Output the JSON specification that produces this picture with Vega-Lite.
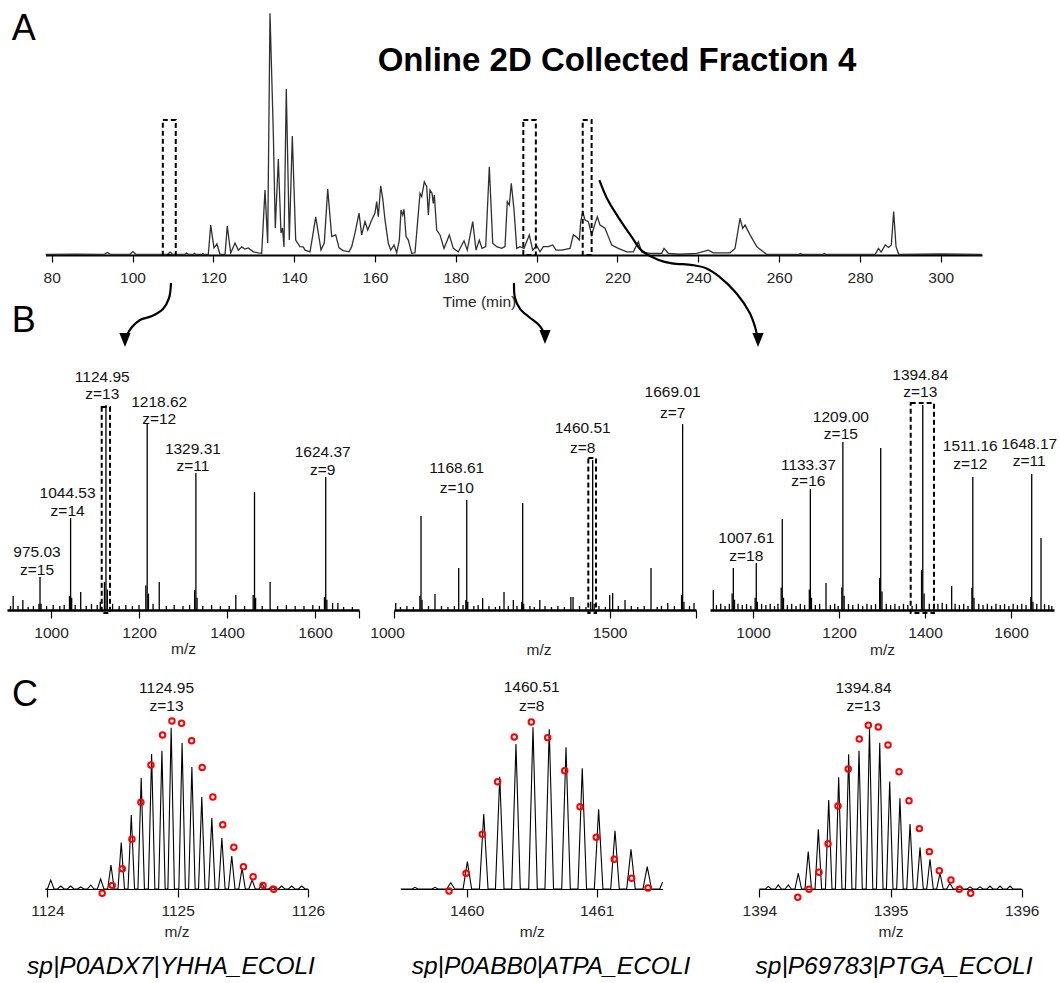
{
  "$schema": "https://vega.github.io/schema/vega-lite/v6.json",
  "background": "white",
  "padding": {"left": 7, "top": 10, "right": 0, "bottom": 0},
  "autosize": {"type": "pad"},
  "bounds": "flush",
  "spacing": 106,
  "config": {
    "view": {"stroke": null},
    "font": "Liberation Sans",
    "axis": {
      "grid": false,
      "domainColor": "#000000",
      "tickColor": "#000000",
      "labelColor": "#262626",
      "titleColor": "#262626",
      "labelFont": "Liberation Sans",
      "titleFont": "Liberation Sans",
      "labelFontSize": 15.5,
      "titleFontSize": 15.5,
      "titleFontWeight": "normal",
      "labelBaseline": "alphabetic",
      "titleBaseline": "alphabetic",
      "labelFlush": false,
      "labelOverlap": false
    }
  },
  "datasets": {
    "chrom": [
      {"t":78.5,"I":0.2},{"t":86,"I":0.3},{"t":92.9,"I":0.2},{"t":93.8,"I":1.0},{"t":94.6,"I":0.2},{"t":99.3,"I":0.2},{"t":100.1,"I":1.4},{"t":100.9,"I":0.2},
      {"t":108.6,"I":0.2},{"t":109.3,"I":1.2},{"t":110.0,"I":0.2},{"t":112.9,"I":0.2},{"t":113.4,"I":0.8},{"t":113.9,"I":0.2},{"t":115.0,"I":0.2},{"t":115.3,"I":0.7},{"t":115.7,"I":0.2},
      {"t":117.1,"I":0.2},{"t":117.4,"I":0.6},{"t":117.7,"I":0.2},{"t":118.75,"I":0.2},{"t":119.35,"I":12.2},{"t":120.16,"I":2.9},{"t":120.9,"I":4.5},{"t":121.65,"I":0.2},
      {"t":122.89,"I":0.2},{"t":123.45,"I":11.8},{"t":124.3,"I":0.8},{"t":125.36,"I":4.9},{"t":126.18,"I":2.0},{"t":127.02,"I":3.3},{"t":127.83,"I":2.4},{"t":128.65,"I":2.9},
      {"t":129.89,"I":1.3},{"t":131.13,"I":0.9},{"t":131.97,"I":0.7},{"t":132.78,"I":26.5},{"t":133.45,"I":4.9},{"t":134.02,"I":98.7},{"t":134.84,"I":49.8},{"t":135.33,"I":11.0},
      {"t":136.08,"I":39.2},{"t":136.74,"I":9.0},{"t":137.11,"I":11.0},{"t":137.48,"I":3.3},{"t":138.05,"I":67.8},{"t":138.8,"I":6.1},{"t":139.54,"I":48.6},{"t":140.38,"I":6.1},
      {"t":141.44,"I":3.4},{"t":142.26,"I":3.3},{"t":142.68,"I":2.0},{"t":143.92,"I":1.3},{"t":144.49,"I":6.9},{"t":145.33,"I":15.6},{"t":145.97,"I":9.0},{"t":146.64,"I":2.0},
      {"t":147.46,"I":5.0},{"t":148.3,"I":26.9},{"t":149.29,"I":7.5},{"t":150.28,"I":8.2},{"t":151.1,"I":2.9},{"t":152.16,"I":1.8},{"t":153.57,"I":1.3},{"t":154.24,"I":3.4},
      {"t":155.06,"I":9.0},{"t":156.05,"I":17.1},{"t":156.71,"I":8.2},{"t":157.53,"I":13.6},{"t":158.2,"I":10.2},{"t":159.19,"I":14.3},{"t":160.0,"I":17.1},{"t":160.42,"I":21.8},
      {"t":160.82,"I":15.6},{"t":161.41,"I":28.2},{"t":161.91,"I":23.1},{"t":162.48,"I":14.3},{"t":163.3,"I":4.8},{"t":163.89,"I":2.0},{"t":164.71,"I":4.1},{"t":165.37,"I":0.9},
      {"t":166.02,"I":6.1},{"t":166.44,"I":18.4},{"t":166.86,"I":16.3},{"t":167.18,"I":18.7},{"t":167.68,"I":7.5},{"t":168.25,"I":6.1},{"t":169.08,"I":0.7},{"t":169.9,"I":0.9},
      {"t":170.72,"I":17.0},{"t":171.14,"I":25.2},{"t":171.56,"I":23.8},{"t":172.2,"I":29.9},{"t":172.8,"I":27.9},{"t":173.2,"I":16.3},{"t":173.61,"I":26.5},{"t":174.11,"I":25.2},
      {"t":174.43,"I":21.1},{"t":174.68,"I":24.5},{"t":175.27,"I":10.2},{"t":176.09,"I":8.2},{"t":177.08,"I":2.7},{"t":178.39,"I":8.2},{"t":179.38,"I":2.7},{"t":180.62,"I":1.3},
      {"t":182.03,"I":5.8},{"t":182.84,"I":2.0},{"t":184.18,"I":13.6},{"t":185.0,"I":2.0},{"t":185.81,"I":6.1},{"t":186.48,"I":2.7},{"t":187.4,"I":3.4},{"t":188.29,"I":36.0},
      {"t":189.13,"I":4.8},{"t":190.12,"I":3.4},{"t":191.36,"I":2.7},{"t":192.17,"I":3.4},{"t":192.74,"I":21.8},{"t":193.24,"I":20.4},{"t":193.73,"I":29.3},{"t":194.4,"I":18.4},
      {"t":195.07,"I":2.7},{"t":195.89,"I":3.4},{"t":196.87,"I":2.7},{"t":198.19,"I":8.2},{"t":199.03,"I":2.0},{"t":200.02,"I":3.7},{"t":200.83,"I":1.3},{"t":201.65,"I":3.4},
      {"t":202.89,"I":3.4},{"t":203.98,"I":4.1},{"t":204.79,"I":2.0},{"t":206.2,"I":2.0},{"t":208.26,"I":2.7},{"t":209.08,"I":8.2},{"t":209.74,"I":7.5},{"t":210.56,"I":6.1},
      {"t":210.91,"I":13.6},{"t":211.4,"I":17.7},{"t":211.97,"I":14.3},{"t":212.79,"I":13.6},{"t":213.63,"I":8.2},{"t":214.45,"I":12.9},{"t":215.02,"I":15.6},{"t":215.68,"I":12.2},
      {"t":216.92,"I":10.9},{"t":217.74,"I":7.5},{"t":218.58,"I":4.1},{"t":220.21,"I":2.7},{"t":222.29,"I":1.3},{"t":223.93,"I":1.3},{"t":225.16,"I":5.4},{"t":226.0,"I":1.3},
      {"t":228.06,"I":0.7},{"t":230.95,"I":0.7},{"t":231.52,"I":2.7},{"t":232.59,"I":0.7},{"t":235.48,"I":0.3},{"t":239.61,"I":0.7},{"t":242.49,"I":2.0},{"t":243.72,"I":0.9},
      {"t":247.85,"I":0.9},{"t":249.09,"I":2.7},{"t":250.33,"I":15.0},{"t":250.99,"I":10.9},{"t":251.57,"I":12.2},{"t":252.8,"I":8.2},{"t":254.46,"I":3.4},{"t":256.96,"I":0.2},
      {"t":264.8,"I":0.2},{"t":265.3,"I":0.6},{"t":265.8,"I":0.2},{"t":270.7,"I":0.2},{"t":271.2,"I":0.6},{"t":271.7,"I":0.2},{"t":283.74,"I":0.2},{"t":284.58,"I":2.7},
      {"t":285.25,"I":1.2},{"t":286.26,"I":4.1},{"t":287.08,"I":3.1},{"t":287.77,"I":4.1},{"t":288.34,"I":17.7},{"t":288.93,"I":3.4},{"t":289.6,"I":0.2},{"t":295,"I":0.3},
      {"t":300,"I":0.4},{"t":305,"I":0.3},{"t":310.2,"I":0.2}
    ],
    "winA": [
      {"lo":107.5,"hi":110.7,"top":55.1},
      {"lo":196.7,"hi":199.8,"top":55.1},
      {"lo":211.4,"hi":213.6,"top":55.1}
    ],
    "arrows": [
      {"a":1,"s":0,"t":109.52,"I":-11.4},{"a":1,"s":1,"t":109.03,"I":-17.6},{"a":1,"s":2,"t":107.54,"I":-22.0},{"a":1,"s":3,"t":104.82,"I":-24.9},
      {"a":1,"s":4,"t":101.85,"I":-26.5},{"a":1,"s":5,"t":99.87,"I":-29.4},{"a":1,"s":6,"t":98.63,"I":-32.7},{"a":1,"s":7,"t":98.14,"I":-34.7},
      {"a":2,"s":0,"t":194.40,"I":-11.4},{"a":2,"s":1,"t":194.65,"I":-17.6},{"a":2,"s":2,"t":195.89,"I":-22.0},{"a":2,"s":3,"t":198.11,"I":-25.3},
      {"a":2,"s":4,"t":200.34,"I":-28.2},{"a":2,"s":5,"t":201.58,"I":-31.0},{"a":2,"s":6,"t":202.07,"I":-33.5},
      {"a":3,"s":0,"t":215.53,"I":30.6},{"a":3,"s":1,"t":217.61,"I":22.4},{"a":3,"s":2,"t":220.14,"I":15.6},{"a":3,"s":3,"t":223.48,"I":7.5},
      {"a":3,"s":4,"t":226.0,"I":1.8},{"a":3,"s":5,"t":230.18,"I":-2.0},{"a":3,"s":6,"t":233.5,"I":-3.4},{"a":3,"s":7,"t":238.55,"I":-4.1},
      {"a":3,"s":8,"t":241.91,"I":-5.4},{"a":3,"s":9,"t":245.25,"I":-8.9},{"a":3,"s":10,"t":249.43,"I":-15.6},{"a":3,"s":11,"t":252.77,"I":-23.8},
      {"a":3,"s":12,"t":254.04,"I":-29.4},{"a":3,"s":13,"t":254.78,"I":-34.7}
    ],
    "heads": [
      {"a":1,"t":98.14,"I":-34.7},{"a":2,"t":202.07,"I":-33.5},{"a":3,"t":254.78,"I":-34.7}
    ],
    "specB": [
      {"p":"B1","mz":908,"I":2},{"p":"B1","mz":914,"I":6.8},{"p":"B1","mz":925,"I":2},{"p":"B1","mz":936,"I":4.9},{"p":"B1","mz":948,"I":1.5},
      {"p":"B1","mz":960,"I":2},{"p":"B1","mz":972.5,"I":3},{"p":"B1","mz":975.03,"I":16.1,"z":15},{"p":"B1","mz":977.5,"I":3},{"p":"B1","mz":990,"I":2},
      {"p":"B1","mz":1005,"I":2.5},{"p":"B1","mz":1020,"I":2},{"p":"B1","mz":1030,"I":2.5},{"p":"B1","mz":1042,"I":6.8},{"p":"B1","mz":1044.53,"I":44.9,"z":14},
      {"p":"B1","mz":1047,"I":6},{"p":"B1","mz":1055,"I":2.5},{"p":"B1","mz":1067.5,"I":8.8},{"p":"B1","mz":1080,"I":2},{"p":"B1","mz":1092,"I":3},
      {"p":"B1","mz":1105,"I":2.5},{"p":"B1","mz":1112,"I":4},{"p":"B1","mz":1121.5,"I":13.7},{"p":"B1","mz":1124.95,"I":100,"z":13},{"p":"B1","mz":1128,"I":10},
      {"p":"B1","mz":1140,"I":3},{"p":"B1","mz":1155,"I":2},{"p":"B1","mz":1170,"I":2.5},{"p":"B1","mz":1185,"I":2},{"p":"B1","mz":1200,"I":2.5},
      {"p":"B1","mz":1215.5,"I":12},{"p":"B1","mz":1218.62,"I":91.2,"z":12},{"p":"B1","mz":1221.5,"I":8},{"p":"B1","mz":1232,"I":3},{"p":"B1","mz":1246,"I":13.7},
      {"p":"B1","mz":1262,"I":2},{"p":"B1","mz":1280,"I":2.5},{"p":"B1","mz":1300,"I":2},{"p":"B1","mz":1315,"I":2.5},{"p":"B1","mz":1326.5,"I":9.8},
      {"p":"B1","mz":1329.31,"I":66.8,"z":11},{"p":"B1","mz":1332,"I":6},{"p":"B1","mz":1345,"I":2},{"p":"B1","mz":1365,"I":2.5},{"p":"B1","mz":1385,"I":2},
      {"p":"B1","mz":1405,"I":2},{"p":"B1","mz":1420,"I":7.3},{"p":"B1","mz":1440,"I":2},{"p":"B1","mz":1459.5,"I":7.3},{"p":"B1","mz":1462.5,"I":57.6},
      {"p":"B1","mz":1465,"I":6},{"p":"B1","mz":1480,"I":2},{"p":"B1","mz":1498,"I":13.7},{"p":"B1","mz":1515,"I":2},{"p":"B1","mz":1535,"I":2.5},
      {"p":"B1","mz":1555,"I":2},{"p":"B1","mz":1575,"I":2},{"p":"B1","mz":1595,"I":2.5},{"p":"B1","mz":1610,"I":2},{"p":"B1","mz":1621.5,"I":6.3},
      {"p":"B1","mz":1624.37,"I":64.9,"z":9},{"p":"B1","mz":1627,"I":5},{"p":"B1","mz":1640,"I":3.4},{"p":"B1","mz":1652,"I":3.4},{"p":"B1","mz":1665,"I":1.5},
      {"p":"B1","mz":1685,"I":1.5},

      {"p":"B2","mz":1004,"I":3.4},{"p":"B2","mz":1015,"I":1.5},{"p":"B2","mz":1030,"I":2},{"p":"B2","mz":1045,"I":1.5},{"p":"B2","mz":1060,"I":6.8},
      {"p":"B2","mz":1062.6,"I":45.9},{"p":"B2","mz":1065,"I":5},{"p":"B2","mz":1080,"I":2},{"p":"B2","mz":1095,"I":7.8},{"p":"B2","mz":1110,"I":2},
      {"p":"B2","mz":1125,"I":1.5},{"p":"B2","mz":1140,"I":2},{"p":"B2","mz":1150,"I":20.5},{"p":"B2","mz":1160,"I":2.5},{"p":"B2","mz":1166.5,"I":4.9},
      {"p":"B2","mz":1168.61,"I":53.7,"z":10},{"p":"B2","mz":1171,"I":4},{"p":"B2","mz":1185,"I":2},{"p":"B2","mz":1195,"I":2.5},{"p":"B2","mz":1205.5,"I":5.9},
      {"p":"B2","mz":1220,"I":2},{"p":"B2","mz":1235,"I":1.5},{"p":"B2","mz":1245,"I":2},{"p":"B2","mz":1255,"I":8.8},{"p":"B2","mz":1265,"I":2},
      {"p":"B2","mz":1276.6,"I":4.9},{"p":"B2","mz":1285,"I":2},{"p":"B2","mz":1296,"I":4},{"p":"B2","mz":1298.3,"I":52.2},{"p":"B2","mz":1300.5,"I":3},
      {"p":"B2","mz":1315,"I":2},{"p":"B2","mz":1325,"I":1.5},{"p":"B2","mz":1338,"I":4.9},{"p":"B2","mz":1350,"I":2},{"p":"B2","mz":1365,"I":1.5},
      {"p":"B2","mz":1380,"I":2},{"p":"B2","mz":1395,"I":1.5},{"p":"B2","mz":1410,"I":6.3},{"p":"B2","mz":1415,"I":6.3},{"p":"B2","mz":1430,"I":2},
      {"p":"B2","mz":1445,"I":1.5},{"p":"B2","mz":1456,"I":4},{"p":"B2","mz":1460.51,"I":73.2,"z":8},{"p":"B2","mz":1464,"I":3},{"p":"B2","mz":1475,"I":2},
      {"p":"B2","mz":1490,"I":1.5},{"p":"B2","mz":1500,"I":7.3},{"p":"B2","mz":1506.8,"I":8.3},{"p":"B2","mz":1520,"I":2},{"p":"B2","mz":1535.5,"I":4.9},
      {"p":"B2","mz":1550,"I":2},{"p":"B2","mz":1565,"I":1.5},{"p":"B2","mz":1580,"I":2},{"p":"B2","mz":1595.7,"I":20.5},{"p":"B2","mz":1610,"I":1.5},
      {"p":"B2","mz":1620,"I":2},{"p":"B2","mz":1634.5,"I":3.4},{"p":"B2","mz":1650,"I":2},{"p":"B2","mz":1666.5,"I":7.3},{"p":"B2","mz":1669.01,"I":90.7,"z":7},
      {"p":"B2","mz":1672,"I":4},{"p":"B2","mz":1685,"I":2},{"p":"B2","mz":1695.4,"I":3.4},

      {"p":"B3","mz":907.7,"I":9.8},{"p":"B3","mz":915,"I":2.5},{"p":"B3","mz":925,"I":3},{"p":"B3","mz":935,"I":2},{"p":"B3","mz":945,"I":3},
      {"p":"B3","mz":951.5,"I":8},{"p":"B3","mz":954.2,"I":20.5},{"p":"B3","mz":957,"I":5},{"p":"B3","mz":965,"I":3},{"p":"B3","mz":975,"I":2.5},
      {"p":"B3","mz":985,"I":3},{"p":"B3","mz":995,"I":2},{"p":"B3","mz":1005,"I":6},{"p":"B3","mz":1007.61,"I":22.9,"z":18},{"p":"B3","mz":1010,"I":4},
      {"p":"B3","mz":1020,"I":3},{"p":"B3","mz":1030,"I":2.5},{"p":"B3","mz":1040,"I":3},{"p":"B3","mz":1050,"I":2},{"p":"B3","mz":1058,"I":3},
      {"p":"B3","mz":1065.5,"I":11},{"p":"B3","mz":1068.1,"I":44.4},{"p":"B3","mz":1071,"I":6},{"p":"B3","mz":1080,"I":2.5},{"p":"B3","mz":1090,"I":3},
      {"p":"B3","mz":1100,"I":2},{"p":"B3","mz":1110,"I":3},{"p":"B3","mz":1120,"I":2.5},{"p":"B3","mz":1131,"I":10},{"p":"B3","mz":1133.37,"I":59.0,"z":16},
      {"p":"B3","mz":1136,"I":6},{"p":"B3","mz":1145,"I":2.5},{"p":"B3","mz":1155,"I":3},{"p":"B3","mz":1169.8,"I":13.2},{"p":"B3","mz":1180,"I":2.5},
      {"p":"B3","mz":1190,"I":3},{"p":"B3","mz":1198,"I":2},{"p":"B3","mz":1206.5,"I":11},{"p":"B3","mz":1209.00,"I":82.0,"z":15},{"p":"B3","mz":1212,"I":7},
      {"p":"B3","mz":1222,"I":3},{"p":"B3","mz":1232,"I":2.5},{"p":"B3","mz":1245,"I":3},{"p":"B3","mz":1255,"I":2},{"p":"B3","mz":1265,"I":3},
      {"p":"B3","mz":1275,"I":2.5},{"p":"B3","mz":1285,"I":3},{"p":"B3","mz":1294.5,"I":15.6},{"p":"B3","mz":1297,"I":79.0},{"p":"B3","mz":1300,"I":9},
      {"p":"B3","mz":1310,"I":3},{"p":"B3","mz":1320,"I":2.5},{"p":"B3","mz":1330,"I":3},{"p":"B3","mz":1340,"I":2},{"p":"B3","mz":1350,"I":3},
      {"p":"B3","mz":1360,"I":2.5},{"p":"B3","mz":1370,"I":2},{"p":"B3","mz":1380,"I":3},{"p":"B3","mz":1392,"I":19.5},{"p":"B3","mz":1394.84,"I":100,"z":13},
      {"p":"B3","mz":1398,"I":8},{"p":"B3","mz":1410,"I":3},{"p":"B3","mz":1420,"I":2.5},{"p":"B3","mz":1430,"I":3},{"p":"B3","mz":1440,"I":3.5},
      {"p":"B3","mz":1450,"I":3},{"p":"B3","mz":1462,"I":11.7},{"p":"B3","mz":1470,"I":3},{"p":"B3","mz":1480,"I":2.5},{"p":"B3","mz":1490,"I":3},
      {"p":"B3","mz":1500,"I":2},{"p":"B3","mz":1509,"I":10.7},{"p":"B3","mz":1511.16,"I":64.9,"z":12},{"p":"B3","mz":1514,"I":6},{"p":"B3","mz":1525,"I":3},
      {"p":"B3","mz":1535,"I":2.5},{"p":"B3","mz":1545,"I":3},{"p":"B3","mz":1555,"I":2},{"p":"B3","mz":1565,"I":3},{"p":"B3","mz":1575,"I":2.5},
      {"p":"B3","mz":1585,"I":3},{"p":"B3","mz":1595,"I":2},{"p":"B3","mz":1605,"I":3},{"p":"B3","mz":1615,"I":2.5},{"p":"B3","mz":1625,"I":3},
      {"p":"B3","mz":1635,"I":2.5},{"p":"B3","mz":1646,"I":6.3},{"p":"B3","mz":1648.17,"I":66.3,"z":11},{"p":"B3","mz":1651,"I":4},{"p":"B3","mz":1660,"I":3},
      {"p":"B3","mz":1669.8,"I":35.1},{"p":"B3","mz":1678,"I":3},{"p":"B3","mz":1688,"I":2.5},{"p":"B3","mz":1695,"I":2}
    ],
    "winB": [
      {"p":"B1","lo":1115.2,"hi":1134.1,"top":99.0},
      {"p":"B2","lo":1450.4,"hi":1468.2,"top":74.1},
      {"p":"B3","lo":1366.7,"hi":1420.9,"top":101.0}
    ],
    "specC": [
      {"p":"C1","mz":1123.985,"I":0},
      {"p":"C1","mz":1124.001,"I":0},{"p":"C1","mz":1124.026,"I":5.2},{"p":"C1","mz":1124.051,"I":0},
      {"p":"C1","mz":1124.078,"I":0},{"p":"C1","mz":1124.103,"I":1.7},{"p":"C1","mz":1124.128,"I":0},
      {"p":"C1","mz":1124.154,"I":0},{"p":"C1","mz":1124.179,"I":1.7},{"p":"C1","mz":1124.204,"I":0},
      {"p":"C1","mz":1124.231,"I":0},{"p":"C1","mz":1124.256,"I":1.2},{"p":"C1","mz":1124.281,"I":0},
      {"p":"C1","mz":1124.308,"I":0},{"p":"C1","mz":1124.333,"I":2.3},{"p":"C1","mz":1124.358,"I":0},
      {"p":"C1","mz":1124.384,"I":0},{"p":"C1","mz":1124.409,"I":5.8},{"p":"C1","mz":1124.434,"I":0},
      {"p":"C1","mz":1124.463,"I":0},{"p":"C1","mz":1124.488,"I":13.9},{"p":"C1","mz":1124.513,"I":0},
      {"p":"C1","mz":1124.542,"I":0},{"p":"C1","mz":1124.567,"I":26.8},{"p":"C1","mz":1124.592,"I":0},
      {"p":"C1","mz":1124.619,"I":0},{"p":"C1","mz":1124.644,"I":42.8},{"p":"C1","mz":1124.669,"I":0},
      {"p":"C1","mz":1124.695,"I":0},{"p":"C1","mz":1124.720,"I":64.2},{"p":"C1","mz":1124.745,"I":0},
      {"p":"C1","mz":1124.775,"I":0},{"p":"C1","mz":1124.800,"I":78.0},{"p":"C1","mz":1124.825,"I":0},
      {"p":"C1","mz":1124.854,"I":0},{"p":"C1","mz":1124.879,"I":79.9},{"p":"C1","mz":1124.904,"I":0},
      {"p":"C1","mz":1124.925,"I":0},{"p":"C1","mz":1124.95,"I":93.2,"z":13},{"p":"C1","mz":1124.975,"I":0},
      {"p":"C1","mz":1125.009,"I":0},{"p":"C1","mz":1125.034,"I":84.4},{"p":"C1","mz":1125.059,"I":0},
      {"p":"C1","mz":1125.084,"I":0},{"p":"C1","mz":1125.109,"I":70.5},{"p":"C1","mz":1125.134,"I":0},
      {"p":"C1","mz":1125.160,"I":0},{"p":"C1","mz":1125.185,"I":53.2},{"p":"C1","mz":1125.210,"I":0},
      {"p":"C1","mz":1125.237,"I":0},{"p":"C1","mz":1125.262,"I":41.0},{"p":"C1","mz":1125.287,"I":0},
      {"p":"C1","mz":1125.314,"I":0},{"p":"C1","mz":1125.339,"I":29.5},{"p":"C1","mz":1125.364,"I":0},
      {"p":"C1","mz":1125.390,"I":0},{"p":"C1","mz":1125.415,"I":19.1},{"p":"C1","mz":1125.440,"I":0},
      {"p":"C1","mz":1125.469,"I":0},{"p":"C1","mz":1125.494,"I":12.1},{"p":"C1","mz":1125.519,"I":0},
      {"p":"C1","mz":1125.546,"I":0},{"p":"C1","mz":1125.571,"I":5.2},{"p":"C1","mz":1125.596,"I":0},
      {"p":"C1","mz":1125.623,"I":0},{"p":"C1","mz":1125.648,"I":2.9},{"p":"C1","mz":1125.673,"I":0},
      {"p":"C1","mz":1125.699,"I":0},{"p":"C1","mz":1125.724,"I":1.7},{"p":"C1","mz":1125.749,"I":0},
      {"p":"C1","mz":1125.773,"I":0},{"p":"C1","mz":1125.798,"I":1.7},{"p":"C1","mz":1125.823,"I":0},
      {"p":"C1","mz":1125.850,"I":0},{"p":"C1","mz":1125.875,"I":1.7},{"p":"C1","mz":1125.900,"I":0},
      {"p":"C1","mz":1125.927,"I":0},{"p":"C1","mz":1125.952,"I":1.7},{"p":"C1","mz":1125.977,"I":0},
      {"p":"C1","mz":1126.0,"I":0},

      {"p":"C2","mz":1459.492,"I":0},
      {"p":"C2","mz":1459.580,"I":0},{"p":"C2","mz":1459.602,"I":1.0},{"p":"C2","mz":1459.624,"I":0},
      {"p":"C2","mz":1459.734,"I":0},{"p":"C2","mz":1459.756,"I":1.0},{"p":"C2","mz":1459.778,"I":0},
      {"p":"C2","mz":1459.846,"I":0},{"p":"C2","mz":1459.877,"I":3.6},{"p":"C2","mz":1459.908,"I":0},
      {"p":"C2","mz":1459.972,"I":0},{"p":"C2","mz":1460.005,"I":15.8},{"p":"C2","mz":1460.038,"I":0},
      {"p":"C2","mz":1460.098,"I":0},{"p":"C2","mz":1460.131,"I":43.4},{"p":"C2","mz":1460.164,"I":0},
      {"p":"C2","mz":1460.221,"I":0},{"p":"C2","mz":1460.254,"I":64.9},{"p":"C2","mz":1460.287,"I":0},
      {"p":"C2","mz":1460.346,"I":0},{"p":"C2","mz":1460.379,"I":83.8},{"p":"C2","mz":1460.412,"I":0},
      {"p":"C2","mz":1460.477,"I":0},{"p":"C2","mz":1460.51,"I":93.5,"z":8},{"p":"C2","mz":1460.543,"I":0},
      {"p":"C2","mz":1460.602,"I":0},{"p":"C2","mz":1460.635,"I":92.3},{"p":"C2","mz":1460.668,"I":0},
      {"p":"C2","mz":1460.731,"I":0},{"p":"C2","mz":1460.764,"I":81.9},{"p":"C2","mz":1460.797,"I":0},
      {"p":"C2","mz":1460.856,"I":0},{"p":"C2","mz":1460.889,"I":69.8},{"p":"C2","mz":1460.922,"I":0},
      {"p":"C2","mz":1460.982,"I":0},{"p":"C2","mz":1461.015,"I":46.1},{"p":"C2","mz":1461.048,"I":0},
      {"p":"C2","mz":1461.108,"I":0},{"p":"C2","mz":1461.141,"I":33.7},{"p":"C2","mz":1461.174,"I":0},
      {"p":"C2","mz":1461.231,"I":0},{"p":"C2","mz":1461.264,"I":22.9},{"p":"C2","mz":1461.297,"I":0},
      {"p":"C2","mz":1461.356,"I":0},{"p":"C2","mz":1461.389,"I":12.9},{"p":"C2","mz":1461.422,"I":0},
      {"p":"C2","mz":1461.485,"I":0},{"p":"C2","mz":1461.508,"I":4},

      {"p":"C3","mz":1394.0,"I":0},
      {"p":"C3","mz":1394.047,"I":0},{"p":"C3","mz":1394.069,"I":1.5},{"p":"C3","mz":1394.091,"I":0},
      {"p":"C3","mz":1394.122,"I":0},{"p":"C3","mz":1394.145,"I":2.3},{"p":"C3","mz":1394.168,"I":0},
      {"p":"C3","mz":1394.198,"I":0},{"p":"C3","mz":1394.221,"I":2.3},{"p":"C3","mz":1394.244,"I":0},
      {"p":"C3","mz":1394.272,"I":0},{"p":"C3","mz":1394.297,"I":9.1},{"p":"C3","mz":1394.322,"I":0},
      {"p":"C3","mz":1394.348,"I":0},{"p":"C3","mz":1394.373,"I":21.6},{"p":"C3","mz":1394.398,"I":0},
      {"p":"C3","mz":1394.425,"I":0},{"p":"C3","mz":1394.450,"I":34.5},{"p":"C3","mz":1394.475,"I":0},
      {"p":"C3","mz":1394.504,"I":0},{"p":"C3","mz":1394.529,"I":51.4},{"p":"C3","mz":1394.554,"I":0},
      {"p":"C3","mz":1394.580,"I":0},{"p":"C3","mz":1394.605,"I":64.6},{"p":"C3","mz":1394.630,"I":0},
      {"p":"C3","mz":1394.656,"I":0},{"p":"C3","mz":1394.681,"I":77.9},{"p":"C3","mz":1394.706,"I":0},
      {"p":"C3","mz":1394.735,"I":0},{"p":"C3","mz":1394.760,"I":79.9},{"p":"C3","mz":1394.785,"I":0},
      {"p":"C3","mz":1394.815,"I":0},{"p":"C3","mz":1394.84,"I":92.9,"z":13},{"p":"C3","mz":1394.865,"I":0},
      {"p":"C3","mz":1394.893,"I":0},{"p":"C3","mz":1394.918,"I":84.6},{"p":"C3","mz":1394.943,"I":0},
      {"p":"C3","mz":1394.969,"I":0},{"p":"C3","mz":1394.994,"I":62.2},{"p":"C3","mz":1395.019,"I":0},
      {"p":"C3","mz":1395.047,"I":0},{"p":"C3","mz":1395.072,"I":52.4},{"p":"C3","mz":1395.097,"I":0},
      {"p":"C3","mz":1395.124,"I":0},{"p":"C3","mz":1395.149,"I":37.6},{"p":"C3","mz":1395.174,"I":0},
      {"p":"C3","mz":1395.200,"I":0},{"p":"C3","mz":1395.225,"I":23.9},{"p":"C3","mz":1395.250,"I":0},
      {"p":"C3","mz":1395.276,"I":0},{"p":"C3","mz":1395.301,"I":17.2},{"p":"C3","mz":1395.326,"I":0},
      {"p":"C3","mz":1395.352,"I":0},{"p":"C3","mz":1395.377,"I":9.1},{"p":"C3","mz":1395.402,"I":0},
      {"p":"C3","mz":1395.428,"I":0},{"p":"C3","mz":1395.453,"I":3.3},{"p":"C3","mz":1395.478,"I":0},
      {"p":"C3","mz":1395.508,"I":0},{"p":"C3","mz":1395.530,"I":1.7},{"p":"C3","mz":1395.552,"I":0},
      {"p":"C3","mz":1395.584,"I":0},{"p":"C3","mz":1395.606,"I":1.2},{"p":"C3","mz":1395.628,"I":0},
      {"p":"C3","mz":1395.660,"I":0},{"p":"C3","mz":1395.682,"I":1.2},{"p":"C3","mz":1395.704,"I":0},
      {"p":"C3","mz":1395.736,"I":0},{"p":"C3","mz":1395.758,"I":1.7},{"p":"C3","mz":1395.780,"I":0},
      {"p":"C3","mz":1395.813,"I":0},{"p":"C3","mz":1395.835,"I":1.7},{"p":"C3","mz":1395.857,"I":0},
      {"p":"C3","mz":1395.889,"I":0},{"p":"C3","mz":1395.911,"I":1.7},{"p":"C3","mz":1395.933,"I":0},
      {"p":"C3","mz":1396.0,"I":0}
    ],
    "iso": [
      {"p":"C1","mz":1124.421,"I":-2.5},{"p":"C1","mz":1124.498,"I":2.1},{"p":"C1","mz":1124.575,"I":11.7},{"p":"C1","mz":1124.649,"I":28.7},
      {"p":"C1","mz":1124.718,"I":50.1},{"p":"C1","mz":1124.795,"I":71.7},{"p":"C1","mz":1124.884,"I":89.0},{"p":"C1","mz":1124.956,"I":97.1},
      {"p":"C1","mz":1125.030,"I":95.8},{"p":"C1","mz":1125.107,"I":85.7},{"p":"C1","mz":1125.188,"I":70.3},{"p":"C1","mz":1125.270,"I":53.2},
      {"p":"C1","mz":1125.346,"I":37.2},{"p":"C1","mz":1125.431,"I":24.1},{"p":"C1","mz":1125.505,"I":12.9},{"p":"C1","mz":1125.579,"I":7.1},
      {"p":"C1","mz":1125.655,"I":2.1},{"p":"C1","mz":1125.737,"I":-0.2},
      {"p":"C2","mz":1459.864,"I":-1.2},{"p":"C2","mz":1459.995,"I":9.1},{"p":"C2","mz":1460.120,"I":31.6},{"p":"C2","mz":1460.238,"I":62.0},
      {"p":"C2","mz":1460.366,"I":87.9},{"p":"C2","mz":1460.497,"I":96.5},{"p":"C2","mz":1460.623,"I":87.5},{"p":"C2","mz":1460.754,"I":68.4},
      {"p":"C2","mz":1460.872,"I":47.6},{"p":"C2","mz":1460.997,"I":29.9},{"p":"C2","mz":1461.135,"I":17.2},{"p":"C2","mz":1461.269,"I":6.2},
      {"p":"C2","mz":1461.395,"I":0.6},
      {"p":"C3","mz":1394.293,"I":-4.8},{"p":"C3","mz":1394.379,"I":-0.2},{"p":"C3","mz":1394.455,"I":9.7},{"p":"C3","mz":1394.524,"I":26.2},
      {"p":"C3","mz":1394.600,"I":48.0},{"p":"C3","mz":1394.678,"I":69.4},{"p":"C3","mz":1394.762,"I":86.7},{"p":"C3","mz":1394.831,"I":94.6},
      {"p":"C3","mz":1394.907,"I":93.6},{"p":"C3","mz":1394.981,"I":83.2},{"p":"C3","mz":1395.065,"I":67.8},{"p":"C3","mz":1395.141,"I":51.0},
      {"p":"C3","mz":1395.220,"I":34.9},{"p":"C3","mz":1395.296,"I":21.6},{"p":"C3","mz":1395.372,"I":10.6},{"p":"C3","mz":1395.461,"I":5.2},
      {"p":"C3","mz":1395.524,"I":-0.2},{"p":"C3","mz":1395.611,"I":-2.5}
    ]
  },
  "vconcat": [
    {
      "width": 975,
      "height": 245,
      "title": {
        "text": "Online 2D Collected Fraction 4",
        "orient": "top", "anchor": "middle", "frame": "group",
        "offset": -62, "dx": 122.5, "dy": 32, "baseline": "alphabetic",
        "font": "Liberation Sans", "fontSize": 33, "fontWeight": "bold", "color": "#000000"
      },
      "layer": [
        {
          "data": {"name": "chrom"},
          "mark": {"type": "line", "color": "#303030", "strokeWidth": 1.3},
          "encoding": {
            "x": {
              "field": "t", "type": "quantitative",
              "scale": {"domain": [78.47, 310.2], "range": [38.5, 975], "nice": false, "zero": false},
              "axis": {
                "values": [80, 100, 120, 140, 160, 180, 200, 220, 240, 260, 280, 300],
                "domainWidth": 1.8, "tickSize": 7, "tickWidth": 1.2, "labelPadding": 20.5,
                "title": "Time (min)", "titleX": 472, "titleY": 51
              }
            },
            "y": {
              "field": "I", "type": "quantitative",
              "scale": {"domain": [0, 100], "nice": false, "zero": false},
              "axis": null
            }
          }
        },
        {
          "data": {"name": "winA"},
          "mark": {"type": "rect", "filled": false, "color": "#000000", "strokeWidth": 2, "strokeDash": [5, 3]},
          "encoding": {
            "x": {"field": "lo", "type": "quantitative"},
            "x2": {"field": "hi"},
            "y": {"field": "top", "type": "quantitative"},
            "y2": {"datum": 0}
          }
        },
        {
          "data": {"name": "arrows"},
          "mark": {"type": "line", "interpolate": "catmull-rom", "color": "#000000", "strokeWidth": 2.2},
          "encoding": {
            "x": {"field": "t", "type": "quantitative"},
            "y": {"field": "I", "type": "quantitative"},
            "detail": {"field": "a"},
            "order": {"field": "s"}
          }
        },
        {
          "data": {"name": "heads"},
          "mark": {"type": "point", "shape": "M-0.8,-1L0.8,-1L0,1Z", "size": 196, "filled": true, "color": "#000000", "opacity": 1},
          "encoding": {
            "x": {"field": "t", "type": "quantitative"},
            "y": {"field": "I", "type": "quantitative"}
          }
        },
        {
          "data": {"values": [{}]},
          "mark": {"type": "text", "fontSize": 36, "align": "center", "baseline": "alphabetic", "color": "#000000"},
          "encoding": {
            "x": {"datum": 73.1, "type": "quantitative"},
            "y": {"datum": 87.8, "type": "quantitative"},
            "text": {"value": "A"}
          }
        },
        {
          "data": {"values": [{}]},
          "mark": {"type": "text", "fontSize": 36, "align": "center", "baseline": "alphabetic", "color": "#000000"},
          "encoding": {
            "x": {"datum": 73.1, "type": "quantitative"},
            "y": {"datum": -31.4, "type": "quantitative"},
            "text": {"value": "B"}
          }
        }
      ]
    },
    {
      "hconcat": [
        {
          "width": 352,
          "height": 249,
          "layer": [
            {
              "data": {"name": "specB"},
              "transform": [{"filter": "datum.p == 'B1'"}],
              "mark": {"type": "rule", "color": "#000000", "strokeWidth": 1.3},
              "encoding": {
                "x": {
                  "field": "mz", "type": "quantitative",
                  "scale": {"domain": [900, 1700], "nice": false, "zero": false},
                  "axis": {
                    "values": [1000, 1200, 1400, 1600, 1700], "format": "d",
                    "labelExpr": "datum.value == 1700 ? '' : datum.label",
                    "domainWidth": 2.5, "tickSize": 8, "tickWidth": 1.2, "labelPadding": 19,
                    "title": "m/z", "titleY": 43
                  }
                },
                "y": {
                  "field": "I", "type": "quantitative",
                  "scale": {"domain": [0, 100], "range": [249, 44], "nice": false, "zero": false},
                  "axis": null
                },
                "y2": {"datum": 0}
              }
            },
            {
              "data": {"name": "winB"},
              "transform": [{"filter": "datum.p == 'B1'"}],
              "mark": {"type": "rect", "filled": false, "color": "#000000", "strokeWidth": 2, "strokeDash": [5, 3]},
              "encoding": {
                "x": {"field": "lo", "type": "quantitative"},
                "x2": {"field": "hi"},
                "y": {"field": "top", "type": "quantitative"},
                "y2": {"datum": -1.5}
              }
            },
            {
              "data": {"name": "specB"},
              "transform": [
                {"filter": "datum.p == 'B1' && isValid(datum.z) && datum.mz != 1124.95 && datum.mz != 1218.62"},
                {"calculate": "format(datum.mz, '.2f') + '\\n' + 'z=' + datum.z", "as": "lab"}
              ],
              "mark": {"type": "text", "align": "center", "baseline": "alphabetic", "lineBreak": "\n", "lineHeight": 17.5, "fontSize": 15.5, "color": "#111111", "dx": -3, "dy": -19.5},
              "encoding": {
                "x": {"field": "mz", "type": "quantitative"},
                "y": {"field": "I", "type": "quantitative"},
                "text": {"field": "lab"}
              }
            },
            {
              "data": {"name": "specB"},
              "transform": [
                {"filter": "datum.p == 'B1' && datum.mz == 1124.95"},
                {"calculate": "format(datum.mz, '.2f') + '\\n' + 'z=' + datum.z", "as": "lab"}
              ],
              "mark": {"type": "text", "align": "center", "baseline": "alphabetic", "lineBreak": "\n", "lineHeight": 17, "fontSize": 15.5, "color": "#111111", "dx": -3.7, "dy": -23},
              "encoding": {
                "x": {"field": "mz", "type": "quantitative"},
                "y": {"field": "I", "type": "quantitative"},
                "text": {"field": "lab"}
              }
            },
            {
              "data": {"name": "specB"},
              "transform": [
                {"filter": "datum.p == 'B1' && datum.mz == 1218.62"},
                {"calculate": "format(datum.mz, '.2f') + '\\n' + 'z=' + datum.z", "as": "lab"}
              ],
              "mark": {"type": "text", "align": "center", "baseline": "alphabetic", "lineBreak": "\n", "lineHeight": 17.5, "fontSize": 15.5, "color": "#111111", "dx": 12, "dy": -16.5},
              "encoding": {
                "x": {"field": "mz", "type": "quantitative"},
                "y": {"field": "I", "type": "quantitative"},
                "text": {"field": "lab"}
              }
            }
          ]
        },
        {
          "width": 323,
          "height": 249,
          "layer": [
            {
              "data": {"name": "specB"},
              "transform": [{"filter": "datum.p == 'B2'"}],
              "mark": {"type": "rule", "color": "#000000", "strokeWidth": 1.3},
              "encoding": {
                "x": {
                  "field": "mz", "type": "quantitative",
                  "scale": {"domain": [1000, 1700], "range": [21, 323], "nice": false, "zero": false},
                  "axis": {
                    "values": [1000, 1500, 1700], "format": "d",
                    "labelExpr": "datum.value == 1700 ? '' : datum.label",
                    "labelOffset": {"condition": {"test": "datum.value == 1000", "value": -7}, "value": 0},
                    "domainWidth": 2.5, "tickSize": 8, "tickWidth": 1.2, "labelPadding": 19,
                    "title": "m/z", "titleY": 44, "titleX": 165.5
                  }
                },
                "y": {
                  "field": "I", "type": "quantitative",
                  "scale": {"domain": [0, 100], "range": [249, 44], "nice": false, "zero": false},
                  "axis": null
                },
                "y2": {"datum": 0}
              }
            },
            {
              "data": {"name": "winB"},
              "transform": [{"filter": "datum.p == 'B2'"}],
              "mark": {"type": "rect", "filled": false, "color": "#000000", "strokeWidth": 2, "strokeDash": [5, 3]},
              "encoding": {
                "x": {"field": "lo", "type": "quantitative"},
                "x2": {"field": "hi"},
                "y": {"field": "top", "type": "quantitative"},
                "y2": {"datum": -1.5}
              }
            },
            {
              "data": {"name": "specB"},
              "transform": [
                {"filter": "datum.p == 'B2' && isValid(datum.z)"},
                {"calculate": "format(datum.mz, '.2f') + '\\n' + 'z=' + datum.z", "as": "lab"}
              ],
              "mark": {"type": "text", "align": "center", "baseline": "alphabetic", "lineBreak": "\n", "lineHeight": 20.5, "fontSize": 15.5, "color": "#111111", "dx": -10, "dy": -27},
              "encoding": {
                "x": {"field": "mz", "type": "quantitative"},
                "y": {"field": "I", "type": "quantitative"},
                "text": {"field": "lab"}
              }
            }
          ]
        },
        {
          "width": 344,
          "height": 249,
          "layer": [
            {
              "data": {"name": "specB"},
              "transform": [{"filter": "datum.p == 'B3'"}],
              "mark": {"type": "rule", "color": "#000000", "strokeWidth": 1.3},
              "encoding": {
                "x": {
                  "field": "mz", "type": "quantitative",
                  "scale": {"domain": [900, 1700], "nice": false, "zero": false},
                  "axis": {
                    "values": [1000, 1200, 1400, 1600], "format": "d",
                    "domainWidth": 2.5, "tickSize": 8, "tickWidth": 1.2, "labelPadding": 19,
                    "title": "m/z", "titleY": 44
                  }
                },
                "y": {
                  "field": "I", "type": "quantitative",
                  "scale": {"domain": [0, 100], "range": [249, 44], "nice": false, "zero": false},
                  "axis": null
                },
                "y2": {"datum": 0}
              }
            },
            {
              "data": {"name": "winB"},
              "transform": [{"filter": "datum.p == 'B3'"}],
              "mark": {"type": "rect", "filled": false, "color": "#000000", "strokeWidth": 2, "strokeDash": [5, 3]},
              "encoding": {
                "x": {"field": "lo", "type": "quantitative"},
                "x2": {"field": "hi"},
                "y": {"field": "top", "type": "quantitative"},
                "y2": {"datum": -1.5}
              }
            },
            {
              "data": {"name": "specB"},
              "transform": [
                {"filter": "datum.p == 'B3' && (datum.mz == 1133.37 || datum.mz == 1209.00)"},
                {"calculate": "format(datum.mz, '.2f') + '\\n' + 'z=' + datum.z", "as": "lab"}
              ],
              "mark": {"type": "text", "align": "center", "baseline": "alphabetic", "lineBreak": "\n", "lineHeight": 16.5, "fontSize": 15.5, "color": "#111111", "dx": -2, "dy": -19.5},
              "encoding": {
                "x": {"field": "mz", "type": "quantitative"},
                "y": {"field": "I", "type": "quantitative"},
                "text": {"field": "lab"}
              }
            },
            {
              "data": {"name": "specB"},
              "transform": [
                {"filter": "datum.p == 'B3' && datum.mz == 1007.61"},
                {"calculate": "format(datum.mz, '.2f') + '\\n' + 'z=' + datum.z", "as": "lab"}
              ],
              "mark": {"type": "text", "align": "center", "baseline": "alphabetic", "lineBreak": "\n", "lineHeight": 18, "fontSize": 15.5, "color": "#111111", "dx": -10, "dy": -20.5},
              "encoding": {
                "x": {"field": "mz", "type": "quantitative"},
                "y": {"field": "I", "type": "quantitative"},
                "text": {"field": "lab"}
              }
            },
            {
              "data": {"name": "specB"},
              "transform": [
                {"filter": "datum.p == 'B3' && (datum.mz == 1394.84 || datum.mz == 1511.16 || datum.mz == 1648.17)"},
                {"calculate": "format(datum.mz, '.2f') + '\\n' + 'z=' + datum.z", "as": "lab"}
              ],
              "mark": {"type": "text", "align": "center", "baseline": "alphabetic", "lineBreak": "\n", "lineHeight": 17.5, "fontSize": 15.5, "color": "#111111", "dx": -2.5, "dy": -25.5},
              "encoding": {
                "x": {"field": "mz", "type": "quantitative"},
                "y": {"field": "I", "type": "quantitative"},
                "text": {"field": "lab"}
              }
            }
          ]
        }
      ],
      "spacing": 14,
      "bounds": "flush"
    },
    {
      "hconcat": [
        {
          "width": 301,
          "height": 422,
          "title": {
            "text": "sp|P0ADX7|YHHA_ECOLI", "orient": "bottom", "anchor": "middle", "frame": "group",
            "offset": 34, "dx": 13.5, "baseline": "alphabetic",
            "font": "Liberation Sans", "fontSize": 24.5, "fontStyle": "italic", "fontWeight": "normal", "color": "#000000"
          },
          "resolve": {"axis": {"x": "independent"}},
          "layer": [
            {
              "data": {"name": "specC"},
              "transform": [{"filter": "datum.p == 'C1'"}],
              "mark": {"type": "line", "color": "#000000", "strokeWidth": 1.1},
              "encoding": {
                "x": {
                  "field": "mz", "type": "quantitative",
                  "scale": {"domain": [1123.982, 1126.0], "range": [38, 301], "nice": false, "zero": false},
                  "axis": {
                    "values": [1124, 1126], "format": "d", "orient": "bottom",
                    "domainWidth": 1.2, "tickSize": 8, "tickWidth": 1.2, "labelPadding": 18.5,
                    "title": "m/z", "titleY": 47
                  }
                },
                "y": {
                  "field": "I", "type": "quantitative",
                  "scale": {"domain": [0, 100], "range": [422, 249], "nice": false, "zero": false},
                  "axis": null
                }
              }
            },
            {
              "data": {"name": "iso"},
              "transform": [{"filter": "datum.p == 'C1'"}],
              "mark": {"type": "point", "shape": "circle", "filled": false, "color": "#ff0000", "strokeWidth": 2, "size": 30, "opacity": 1},
              "encoding": {
                "x": {
                  "field": "mz", "type": "quantitative",
                  "axis": {
                    "values": [1125], "format": "d", "orient": "bottom", "domain": false,
                    "tickSize": 8, "tickWidth": 1.2, "labelPadding": 18.5, "title": null
                  }
                },
                "y": {"field": "I", "type": "quantitative", "axis": null}
              }
            },
            {
              "data": {"name": "specC"},
              "transform": [
                {"filter": "datum.p == 'C1' && isValid(datum.z)"},
                {"calculate": "format(datum.mz, '.2f') + '\\n' + 'z=' + datum.z", "as": "lab"}
              ],
              "mark": {"type": "text", "align": "center", "baseline": "alphabetic", "lineBreak": "\n", "lineHeight": 18.5, "fontSize": 15.5, "color": "#111111", "dx": -4.6, "dy": -35},
              "encoding": {
                "x": {"field": "mz", "type": "quantitative", "axis": null},
                "y": {"field": "I", "type": "quantitative", "axis": null},
                "text": {"field": "lab"}
              }
            },
            {
              "data": {"values": [{}]},
              "mark": {"type": "text", "fontSize": 36, "align": "center", "baseline": "alphabetic", "color": "#000000"},
              "encoding": {
                "x": {"datum": 1123.829, "type": "quantitative", "axis": null},
                "y": {"datum": 105.8, "type": "quantitative", "axis": null},
                "text": {"value": "C"}
              }
            }
          ]
        },
        {
          "width": 341,
          "height": 422,
          "title": {
            "text": "sp|P0ABB0|ATPA_ECOLI", "orient": "bottom", "anchor": "middle", "frame": "group",
            "offset": 34, "dx": 58.5, "baseline": "alphabetic",
            "font": "Liberation Sans", "fontSize": 24.5, "fontStyle": "italic", "fontWeight": "normal", "color": "#000000"
          },
          "layer": [
            {
              "data": {"name": "specC"},
              "transform": [{"filter": "datum.p == 'C2'"}],
              "mark": {"type": "line", "color": "#000000", "strokeWidth": 1.1},
              "encoding": {
                "x": {
                  "field": "mz", "type": "quantitative",
                  "scale": {"domain": [1459.492, 1461.508], "range": [78.7, 340.7], "nice": false, "zero": false},
                  "axis": {
                    "values": [1460, 1461], "format": "d",
                    "domainWidth": 1.2, "tickSize": 8, "tickWidth": 1.2, "labelPadding": 18.5,
                    "title": "m/z", "titleY": 47
                  }
                },
                "y": {
                  "field": "I", "type": "quantitative",
                  "scale": {"domain": [0, 100], "range": [422, 249], "nice": false, "zero": false},
                  "axis": null
                }
              }
            },
            {
              "data": {"name": "iso"},
              "transform": [{"filter": "datum.p == 'C2'"}],
              "mark": {"type": "point", "shape": "circle", "filled": false, "color": "#ff0000", "strokeWidth": 2, "size": 30, "opacity": 1},
              "encoding": {
                "x": {"field": "mz", "type": "quantitative"},
                "y": {"field": "I", "type": "quantitative"}
              }
            },
            {
              "data": {"name": "specC"},
              "transform": [
                {"filter": "datum.p == 'C2' && isValid(datum.z)"},
                {"calculate": "format(datum.mz, '.2f') + '\\n' + 'z=' + datum.z", "as": "lab"}
              ],
              "mark": {"type": "text", "align": "center", "baseline": "alphabetic", "lineBreak": "\n", "lineHeight": 18.5, "fontSize": 15.5, "color": "#111111", "dx": -1.3, "dy": -35},
              "encoding": {
                "x": {"field": "mz", "type": "quantitative"},
                "y": {"field": "I", "type": "quantitative"},
                "text": {"field": "lab"}
              }
            }
          ]
        },
        {
          "width": 345,
          "height": 422,
          "title": {
            "text": "sp|P69783|PTGA_ECOLI", "orient": "bottom", "anchor": "middle", "frame": "group",
            "offset": 34, "dx": 44.5, "baseline": "alphabetic",
            "font": "Liberation Sans", "fontSize": 24.5, "fontStyle": "italic", "fontWeight": "normal", "color": "#000000"
          },
          "resolve": {"axis": {"x": "independent"}},
          "layer": [
            {
              "data": {"name": "specC"},
              "transform": [{"filter": "datum.p == 'C3'"}],
              "mark": {"type": "line", "color": "#000000", "strokeWidth": 1.1},
              "encoding": {
                "x": {
                  "field": "mz", "type": "quantitative",
                  "scale": {"domain": [1394.0, 1396.0], "range": [82.3, 344.7], "nice": false, "zero": false},
                  "axis": {
                    "values": [1394, 1396], "format": "d", "orient": "bottom",
                    "domainWidth": 1.2, "tickSize": 8, "tickWidth": 1.2, "labelPadding": 18.5,
                    "title": "m/z", "titleY": 47
                  }
                },
                "y": {
                  "field": "I", "type": "quantitative",
                  "scale": {"domain": [0, 100], "range": [422, 249], "nice": false, "zero": false},
                  "axis": null
                }
              }
            },
            {
              "data": {"name": "iso"},
              "transform": [{"filter": "datum.p == 'C3'"}],
              "mark": {"type": "point", "shape": "circle", "filled": false, "color": "#ff0000", "strokeWidth": 2, "size": 30, "opacity": 1},
              "encoding": {
                "x": {
                  "field": "mz", "type": "quantitative",
                  "axis": {
                    "values": [1395], "format": "d", "orient": "bottom", "domain": false,
                    "tickSize": 8, "tickWidth": 1.2, "labelPadding": 18.5, "title": null
                  }
                },
                "y": {"field": "I", "type": "quantitative", "axis": null}
              }
            },
            {
              "data": {"name": "specC"},
              "transform": [
                {"filter": "datum.p == 'C3' && isValid(datum.z)"},
                {"calculate": "format(datum.mz, '.2f') + '\\n' + 'z=' + datum.z", "as": "lab"}
              ],
              "mark": {"type": "text", "align": "center", "baseline": "alphabetic", "lineBreak": "\n", "lineHeight": 18, "fontSize": 15.5, "color": "#111111", "dx": -6, "dy": -35},
              "encoding": {
                "x": {"field": "mz", "type": "quantitative", "axis": null},
                "y": {"field": "I", "type": "quantitative", "axis": null},
                "text": {"field": "lab"}
              }
            }
          ]
        }
      ],
      "spacing": 14,
      "bounds": "flush"
    }
  ]
}
